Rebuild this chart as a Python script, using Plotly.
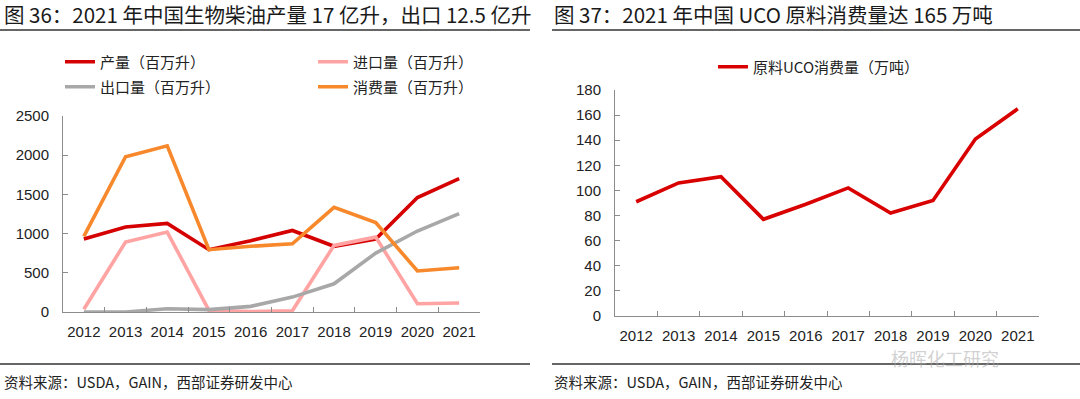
import plotly.graph_objects as go

years = ["2012", "2013", "2014", "2015", "2016", "2017", "2018", "2019", "2020", "2021"]

production = [930, 1085, 1130, 795, 910, 1040, 838, 930, 1460, 1700]
imports = [35, 893, 1020, 20, 5, 15, 850, 955, 105, 115]
exports = [0, 0, 42, 30, 72, 190, 360, 752, 1033, 1254]
consumption = [965, 1980, 2120, 795, 838, 870, 1335, 1140, 523, 565]

uco = [91, 106, 111, 77, 89, 102, 82, 92, 141, 165]

left_names = ["产量（百万升）", "进口量（百万升）", "出口量（百万升）", "消费量（百万升）"]
right_name = "原料UCO消费量（万吨）"

title_left = "图 36：2021 年中国生物柴油产量 17 亿升，出口 12.5 亿升"
title_right = "图 37：2021 年中国 UCO 原料消费量达 165 万吨"
source_text = "资料来源：USDA，GAIN，西部证券研发中心"
watermark = "杨晖化工研究"

W, H = 1080, 399
FONT = "Liberation Sans, Arial, Noto Sans CJK SC, sans-serif"
CJK = "Noto Sans CJK SC, Liberation Sans, sans-serif"

RED = "#D50000"
PINK = "#FFA3A3"
GRAY = "#A8A8A8"
ORANGE = "#F7882B"
AX = "#8C8C8C"
LW = 3.6


def px_y(y):
    return 1 - y / H


def px_x(x):
    return x / W


fig = go.Figure()

series = [
    (production, left_names[0], RED, "legend"),
    (imports, left_names[1], PINK, "legend"),
    (exports, left_names[2], GRAY, "legend2"),
    (consumption, left_names[3], ORANGE, "legend2"),
]
for vals, name, col, leg in series:
    fig.add_trace(go.Scatter(
        x=years, y=vals, name=name, mode="lines",
        line=dict(color=col, width=LW), xaxis="x", yaxis="y", legend=leg,
    ))

fig.add_trace(go.Scatter(
    x=years, y=uco, name=right_name, mode="lines",
    line=dict(color="#D90000", width=LW), xaxis="x2", yaxis="y2", legend="legend3",
))

common_x = dict(
    type="category", range=[-0.5, 9.5], autorange=False,
    showline=True, linecolor=AX, linewidth=1,
    ticks="inside", tickson="boundaries", ticklen=5, tickcolor=AX,
    showgrid=False, zeroline=False, automargin=False, tickangle=0,
    tickfont=dict(family=FONT, size=15, color="#222"),
    ticklabelstandoff=6, fixedrange=True,
)
common_y = dict(
    showline=True, linecolor=AX, linewidth=1,
    ticks="inside", ticklen=5, tickcolor=AX,
    showgrid=False, zeroline=False, automargin=False,
    tickfont=dict(family=FONT, size=15, color="#222"),
    ticklabelstandoff=10, fixedrange=True,
)

leg_font = dict(family=CJK, size=15, color="#222")

fig.update_layout(
    width=W, height=H,
    margin=dict(l=0, r=0, t=0, b=0, autoexpand=False),
    paper_bgcolor="white", plot_bgcolor="white",
    showlegend=True,
    xaxis=dict(domain=[px_x(63), px_x(480)], anchor="y", **common_x),
    yaxis=dict(domain=[px_y(312), px_y(116)], anchor="x", range=[0, 2500],
               tickvals=[0, 500, 1000, 1500, 2000, 2500], **common_y),
    xaxis2=dict(domain=[px_x(615), px_x(1039)], anchor="y2", **common_x),
    yaxis2=dict(domain=[px_y(316), px_y(90)], anchor="x2", range=[0, 180],
                tickvals=list(range(0, 181, 20)), **common_y),
    legend=dict(orientation="h", x=px_x(60), y=px_y(62), xanchor="left", yanchor="middle",
                entrywidth=208, entrywidthmode="pixels", bgcolor="rgba(0,0,0,0)",
                font=leg_font, itemclick=False),
    legend2=dict(orientation="h", x=px_x(60), y=px_y(87), xanchor="left", yanchor="middle",
                 entrywidth=208, entrywidthmode="pixels", bgcolor="rgba(0,0,0,0)",
                 font=leg_font, itemclick=False),
    legend3=dict(orientation="h", x=px_x(713), y=px_y(67), xanchor="left", yanchor="middle",
                 bgcolor="rgba(0,0,0,0)", font=leg_font, itemclick=False),
)

shapes = []
for x0, x1 in [(0, 530), (552, 1080)]:
    for yy in (30, 364):
        shapes.append(dict(type="line", xref="paper", yref="paper",
                           x0=px_x(x0), x1=px_x(x1), y0=px_y(yy), y1=px_y(yy),
                           line=dict(color="#333", width=1.5)))
fig.update_layout(shapes=shapes)

ann = [
    dict(text=title_left, x=px_x(3), y=px_y(14), xanchor="left", yanchor="middle",
         font=dict(family=CJK, size=20.5, color="#1a1a1a")),
    dict(text=title_right, x=px_x(553), y=px_y(14), xanchor="left", yanchor="middle",
         font=dict(family=CJK, size=20.5, color="#1a1a1a")),
    dict(text=source_text, x=px_x(3), y=px_y(381), xanchor="left", yanchor="middle",
         font=dict(family=CJK, size=14.5, color="#222")),
    dict(text=source_text, x=px_x(553), y=px_y(381), xanchor="left", yanchor="middle",
         font=dict(family=CJK, size=14.5, color="#222")),
    dict(text=watermark, x=px_x(890), y=px_y(358), xanchor="left", yanchor="middle",
         font=dict(family=CJK, size=18, color="rgba(170,170,170,0.55)")),
]
for a in ann:
    a.update(xref="paper", yref="paper", showarrow=False, borderpad=0)
fig.update_layout(annotations=ann)

fig.write_html(
    "out.html",
    config={"displayModeBar": False},
    post_script="document.body.style.margin='0';document.body.style.overflow='hidden';",
)
